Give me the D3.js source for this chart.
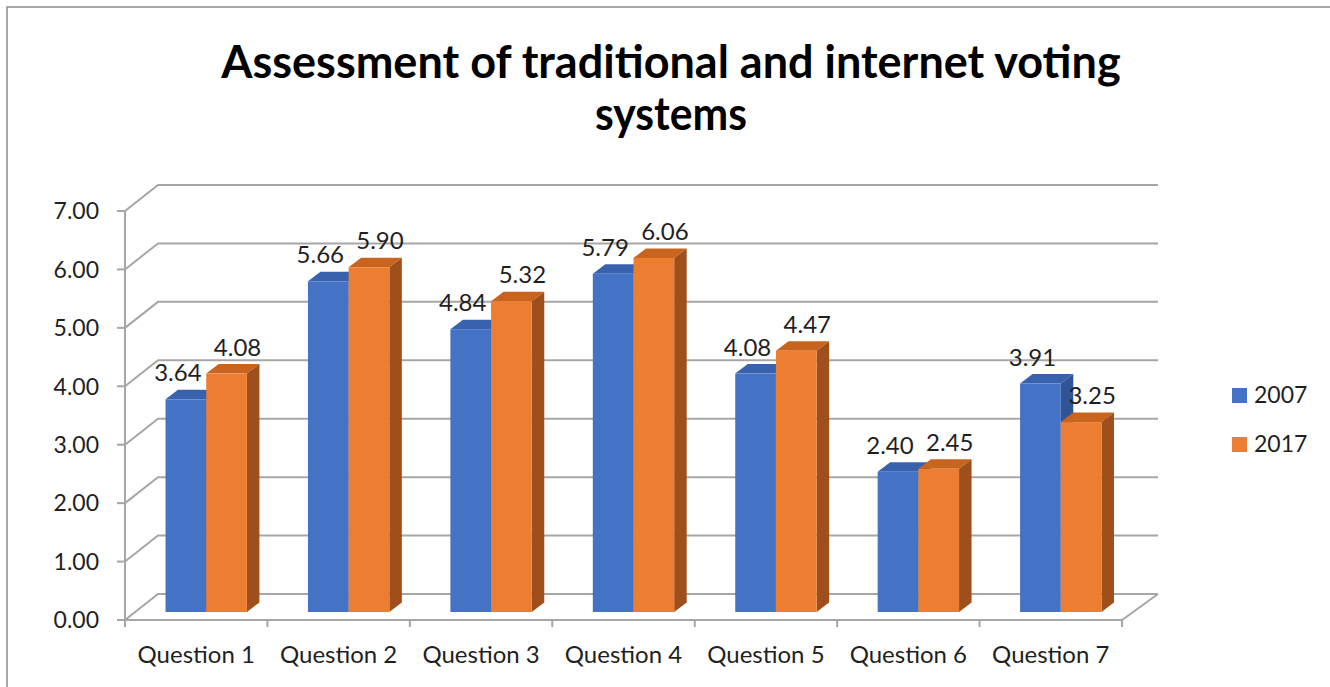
<!DOCTYPE html>
<html><head><meta charset="utf-8">
<script src="https://cdn.jsdelivr.net/npm/d3@7"></script>
<style>
html,body{margin:0;padding:0;background:#fff;}
svg{display:block;font-family:Lato,"Open Sans",sans-serif;}
</style></head>
<body>
<svg id="chart" width="1330" height="687"></svg>
<script>
const categories = ["Question 1","Question 2","Question 3","Question 4","Question 5","Question 6","Question 7"];
const seriesNames = ["2007","2017"];
const values2007 = [3.64, 5.66, 4.84, 5.79, 4.08, 2.40, 3.91];
const values2017 = [4.08, 5.90, 5.32, 6.06, 4.47, 2.45, 3.25];
const yTicks = [0,1,2,3,4,5,6,7];
const titleLines = ["Assessment of traditional and internet voting","systems"];

const colors = {
  "2007": {front:"#4472C4", top:"#3862AD", side:"#2F5597"},
  "2017": {front:"#ED7D31", top:"#C9641F", side:"#9E4F1C"}
};

const svg = d3.select("#chart");

// border (top + left visible)
svg.append("rect").attr("x",7).attr("y",7).attr("width",1400).attr("height",800)
  .attr("fill","none").attr("stroke","#8c8c8c").attr("stroke-width",1.5);

// geometry
const x0 = 125, x1 = 1122, yBase = 620, yTop = 211;
const wallDx = 33, wallDy = 26;
const barDx = 10, barDy = 8;
const boxDx = 12.5, boxDy = 9.5;

const x = d3.scaleBand().domain(categories).range([x0, x1]).paddingInner(0).paddingOuter(0);
const y = d3.scaleLinear().domain([0,7]).range([yBase, yTop]);
const bw = x.bandwidth();
const barW = bw / 3.5;
const sub = d3.scaleBand().domain(seriesNames).range([0.75*barW, 2.75*barW]).padding(0);

const gridColor = "#a6a6a6";
const textColor = "#1f1f1f";
const g = svg.append("g");

yTicks.forEach(t => {
  const yy = y(t);
  g.append("path")
    .attr("d", `M${x0},${yy} L${x0+wallDx},${yy-wallDy} L${x1+36},${yy-wallDy}`)
    .attr("fill","none").attr("stroke",gridColor).attr("stroke-width",2);
});
g.append("path")
  .attr("d", `M${x0},${yBase} L${x1},${yBase} L${x1+36},${yBase-wallDy}`)
  .attr("fill","none").attr("stroke",gridColor).attr("stroke-width",2);
g.append("line").attr("x1",x0).attr("x2",x0).attr("y1",yBase).attr("y2",yTop)
  .attr("stroke",gridColor).attr("stroke-width",2);
yTicks.forEach(t => {
  g.append("line").attr("x1",x0-8).attr("x2",x0).attr("y1",y(t)).attr("y2",y(t))
    .attr("stroke",gridColor).attr("stroke-width",2);
  g.append("text").attr("x",99).attr("y",y(t)).attr("dy","0.36em")
    .attr("text-anchor","end").attr("font-size",23).attr("fill",textColor)
    .text(d3.format(".2f")(t));
});
const xt = categories.map(c => x(c)).concat([x1]);
xt.forEach(xx => {
  g.append("line").attr("x1",xx).attr("x2",xx).attr("y1",yBase).attr("y2",yBase+7)
    .attr("stroke",gridColor).attr("stroke-width",2);
});
categories.forEach(c => {
  g.append("text").attr("x", x(c)+bw/2).attr("y", 663).attr("text-anchor","middle")
    .attr("font-size",24).attr("fill",textColor).text(c);
});

const series = [
  {name:"2007", vals: values2007, labelShift: -8},
  {name:"2017", vals: values2017, labelShift: 11}
];
const bars = svg.append("g");
categories.forEach((c, i) => {
  series.forEach(s => {
    const v = s.vals[i];
    const col = colors[s.name];
    const bx0 = x(c) + barDx + sub(s.name);
    const bx1 = bx0 + barW;
    const by0 = y(0) - barDy;
    const byt = y(v) - barDy;
    bars.append("path")
      .attr("d", `M${bx0},${byt} L${bx0+boxDx},${byt-boxDy} L${bx1+boxDx},${byt-boxDy} L${bx1},${byt} Z`)
      .attr("fill", col.top);
    bars.append("path")
      .attr("d", `M${bx1},${byt} L${bx1+boxDx},${byt-boxDy} L${bx1+boxDx},${by0-boxDy} L${bx1},${by0} Z`)
      .attr("fill", col.side);
    bars.append("rect").attr("x", bx0).attr("y", byt).attr("width", barW).attr("height", by0-byt)
      .attr("fill", col.front);
  });
});
const labels = svg.append("g");
categories.forEach((c, i) => {
  series.forEach(s => {
    const v = s.vals[i];
    const bx0 = x(c) + barDx + sub(s.name);
    labels.append("text")
      .attr("x", bx0 + barW/2 + s.labelShift)
      .attr("y", y(v) - barDy - 18)
      .attr("text-anchor","middle").attr("font-size",24).attr("fill",textColor)
      .text(d3.format(".2f")(v));
  });
});

const lg = svg.append("g");
seriesNames.forEach((n, i) => {
  const yy = 388 + i*49;
  lg.append("rect").attr("x",1232).attr("y",yy).attr("width",15).attr("height",15)
    .attr("fill", colors[n].front);
  lg.append("text").attr("x",1254).attr("y",yy+15).attr("font-size",23).attr("fill",textColor).text(n);
});

const titleY = [78, 130];
titleLines.forEach((t, i) => {
  const el = svg.append("text").attr("x", 671).attr("y", titleY[i]).attr("text-anchor","middle")
    .attr("font-size",45).attr("font-weight",700).attr("fill","#000").text(t);
  const target = i === 0 ? 902 : 152;
  const w = el.node().getComputedTextLength();
  if (w > target) el.attr("textLength", target).attr("lengthAdjust","spacingAndGlyphs");
});
</script>
</body></html>
